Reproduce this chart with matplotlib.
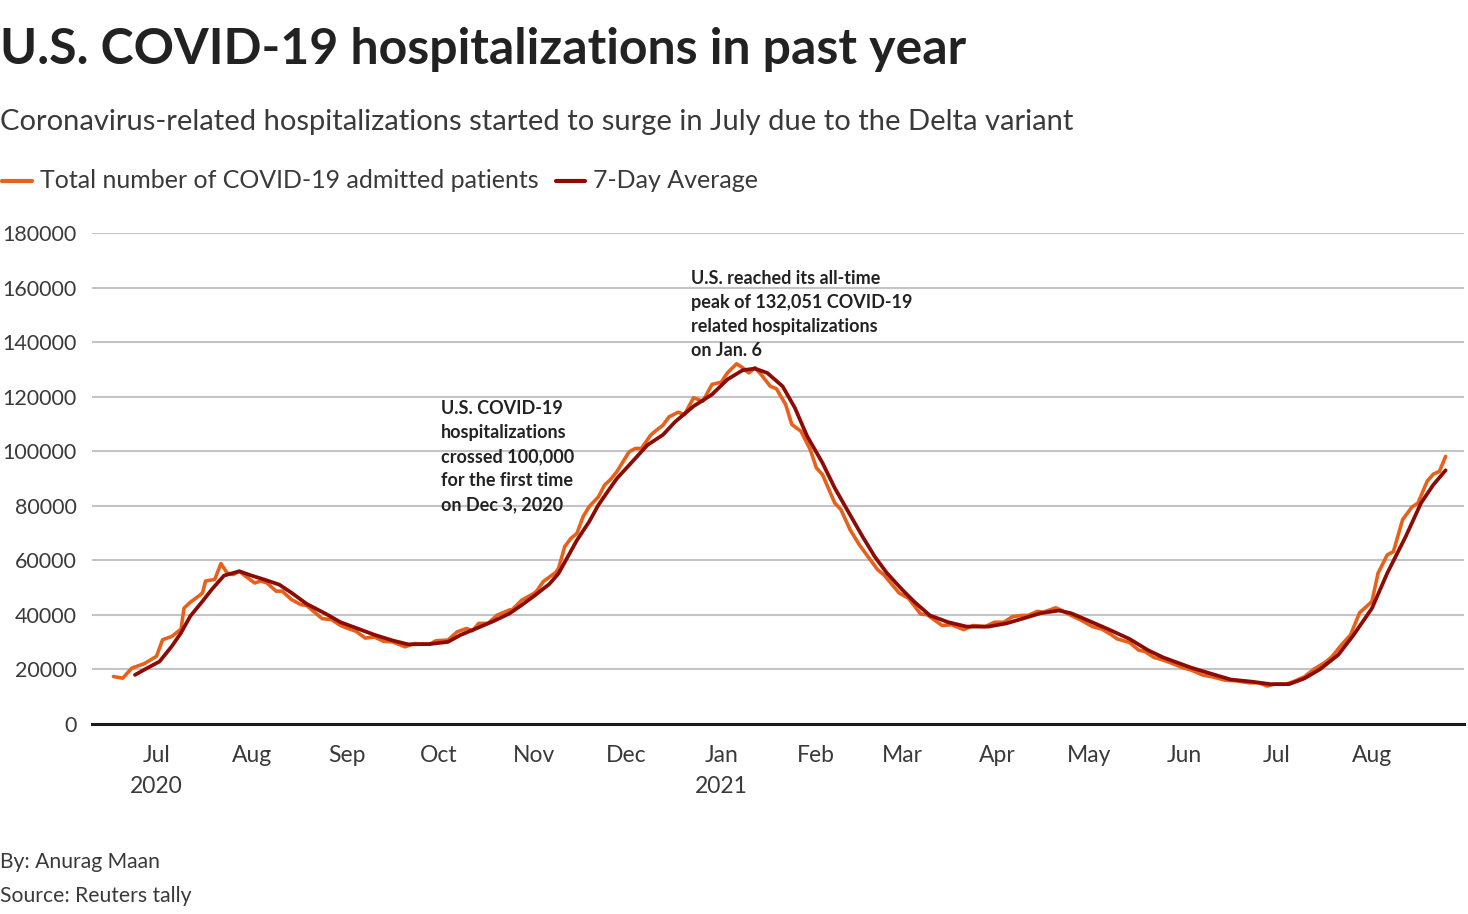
import pandas as pd
import matplotlib.pyplot as plt
from matplotlib.lines import Line2D

TOTAL_DATES = [
    "2020-06-17", "2020-06-20", "2020-06-23", "2020-06-27", "2020-07-01", "2020-07-03",
    "2020-07-06", "2020-07-09", "2020-07-10", "2020-07-12", "2020-07-15", "2020-07-16",
    "2020-07-17", "2020-07-20", "2020-07-22", "2020-07-24", "2020-07-26", "2020-07-28",
    "2020-07-30", "2020-08-02", "2020-08-04", "2020-08-06", "2020-08-09", "2020-08-11",
    "2020-08-14", "2020-08-17", "2020-08-19", "2020-08-22", "2020-08-24", "2020-08-27",
    "2020-08-30", "2020-09-01", "2020-09-04", "2020-09-07", "2020-09-10", "2020-09-13",
    "2020-09-16", "2020-09-20", "2020-09-23", "2020-09-28", "2020-09-30", "2020-10-04",
    "2020-10-07", "2020-10-10", "2020-10-12", "2020-10-14", "2020-10-17", "2020-10-20",
    "2020-10-24", "2020-10-25", "2020-10-28", "2020-11-01", "2020-11-02", "2020-11-04",
    "2020-11-08", "2020-11-09", "2020-11-11", "2020-11-13", "2020-11-15", "2020-11-17",
    "2020-11-19", "2020-11-22", "2020-11-24", "2020-11-26", "2020-11-28", "2020-12-02",
    "2020-12-04", "2020-12-06", "2020-12-09", "2020-12-11", "2020-12-13", "2020-12-15",
    "2020-12-18", "2020-12-20", "2020-12-23", "2020-12-26", "2020-12-29", "2021-01-01",
    "2021-01-03", "2021-01-06", "2021-01-08", "2021-01-10", "2021-01-12", "2021-01-14",
    "2021-01-17", "2021-01-19", "2021-01-22", "2021-01-24", "2021-01-27", "2021-01-30",
    "2021-02-01", "2021-02-03", "2021-02-07", "2021-02-09", "2021-02-12", "2021-02-15",
    "2021-02-17", "2021-02-21", "2021-02-23", "2021-02-28", "2021-03-03", "2021-03-07",
    "2021-03-09", "2021-03-14", "2021-03-17", "2021-03-21", "2021-03-24", "2021-03-28",
    "2021-03-31", "2021-04-03", "2021-04-06", "2021-04-09", "2021-04-11", "2021-04-14",
    "2021-04-16", "2021-04-20", "2021-04-22", "2021-04-25", "2021-04-28", "2021-05-02",
    "2021-05-05", "2021-05-08", "2021-05-10", "2021-05-14", "2021-05-17", "2021-05-19",
    "2021-05-22", "2021-05-24", "2021-05-28", "2021-05-31", "2021-06-03", "2021-06-07",
    "2021-06-10", "2021-06-14", "2021-06-18", "2021-06-22", "2021-06-25", "2021-06-28",
    "2021-06-30", "2021-07-04", "2021-07-07", "2021-07-10", "2021-07-13", "2021-07-17",
    "2021-07-19", "2021-07-22", "2021-07-25", "2021-07-28", "2021-08-01", "2021-08-03",
    "2021-08-06", "2021-08-08", "2021-08-11", "2021-08-14", "2021-08-16", "2021-08-19",
    "2021-08-21", "2021-08-23", "2021-08-25",
]
TOTAL_VALUES = [
    17400, 16800, 20500, 22100, 24800, 30900,
    32100, 34800, 42500, 44600, 47100, 48100,
    52400, 53000, 58800, 55400, 54800, 56000,
    54200, 51700, 52400, 51700, 48700, 48700,
    45600, 43800, 43400, 40500, 38600, 38300,
    36100, 35200, 34000, 31500, 31900, 30300,
    30100, 28300, 29500, 29200, 30500, 30800,
    33800, 35000, 34200, 36900, 36900, 39900,
    41800, 42000, 45400, 47900, 48900, 52200,
    55500, 57000, 65000, 68000, 69900, 76000,
    79700, 83300, 87600, 89700, 92500, 99800,
    101000, 101000, 105900, 107800, 109500, 112600,
    114300, 113400, 119600, 118300, 124500, 125300,
    128700, 132051, 130600, 128700, 130600, 128100,
    123800, 122900, 117100, 109800, 107300, 100600,
    93900, 91400, 81000, 78600, 71200, 65700,
    62600, 56500, 54700, 48000, 46100, 40300,
    40100, 36100, 36400, 34600, 36100, 35700,
    37300, 37300, 39400, 39800, 39800, 41300,
    41000, 42600, 41600, 39800, 38200, 35700,
    34800, 32800, 31200, 29900, 27100, 26600,
    24400, 23800, 22200, 20800, 19800, 17900,
    17300, 16100, 15800, 15100, 15100, 13900,
    14600, 14600, 15800, 17300, 20000, 22800,
    24700, 28900, 32600, 40800, 44900, 55300,
    62000, 63200, 74900, 79500, 81000, 89000,
    91600, 92600, 98100,
]

AVG_DATES = [
    "2020-06-24", "2020-06-28", "2020-07-02", "2020-07-06", "2020-07-09", "2020-07-12",
    "2020-07-16", "2020-07-19", "2020-07-23", "2020-07-28", "2020-08-01", "2020-08-05",
    "2020-08-10", "2020-08-14", "2020-08-19", "2020-08-25", "2020-08-30", "2020-09-05",
    "2020-09-10", "2020-09-16", "2020-09-21", "2020-09-28", "2020-10-04", "2020-10-08",
    "2020-10-14", "2020-10-19", "2020-10-24", "2020-10-28", "2020-11-01", "2020-11-06",
    "2020-11-09", "2020-11-12", "2020-11-15", "2020-11-19", "2020-11-22", "2020-11-25",
    "2020-11-28", "2020-12-02", "2020-12-05", "2020-12-08", "2020-12-13", "2020-12-17",
    "2020-12-23", "2020-12-29", "2021-01-03", "2021-01-08", "2021-01-12", "2021-01-16",
    "2021-01-21", "2021-01-25", "2021-01-29", "2021-02-03", "2021-02-07", "2021-02-11",
    "2021-02-16", "2021-02-20", "2021-02-24", "2021-03-01", "2021-03-05", "2021-03-10",
    "2021-03-16", "2021-03-22", "2021-03-29", "2021-04-04", "2021-04-10", "2021-04-15",
    "2021-04-21", "2021-04-25", "2021-04-30", "2021-05-07", "2021-05-14", "2021-05-20",
    "2021-05-25", "2021-06-03", "2021-06-10", "2021-06-16", "2021-06-23", "2021-06-29",
    "2021-07-05", "2021-07-10", "2021-07-15", "2021-07-21", "2021-07-26", "2021-08-01",
    "2021-08-06", "2021-08-12", "2021-08-17", "2021-08-21", "2021-08-25",
]
AVG_VALUES = [
    18000, 20500, 22900, 28500, 33400, 39500,
    45000, 49300, 54400, 56000, 54400, 53000,
    51100, 48100, 44000, 40500, 37300, 34800,
    32700, 30600, 29200, 29300, 30100, 32600,
    35400, 37800, 40500, 43600, 46900, 51300,
    55200, 61300, 67400, 74200, 80300, 85200,
    90000, 94900, 98600, 102300, 106000, 110800,
    116500, 120800, 126300, 129700, 130300, 128700,
    123800, 115900, 105500, 95700, 86500, 78600,
    68800, 61400, 55300, 49200, 44700, 39800,
    37300, 35700, 35700, 36900, 38900, 40600,
    41600, 40600, 38200, 34800, 31200, 27100,
    24400, 20700, 18300, 16300, 15500, 14600,
    14600, 16700, 20000, 25300, 32600, 42400,
    55300, 68700, 81000, 87700, 93000,
]

Y_TICKS = [0, 20000, 40000, 60000, 80000, 100000, 120000, 140000, 160000, 180000]
MONTH_TICKS = ["2020-07-01", "2020-08-01", "2020-09-01", "2020-10-01", "2020-11-01",
               "2020-12-01", "2021-01-01", "2021-02-01", "2021-03-01", "2021-04-01",
               "2021-05-01", "2021-06-01", "2021-07-01", "2021-08-01"]
MONTH_LABELS = ["Jul\n2020", "Aug", "Sep", "Oct", "Nov", "Dec", "Jan\n2021", "Feb",
                "Mar", "Apr", "May", "Jun", "Jul", "Aug"]
LEGEND_LABELS = ["Total number of COVID-19 admitted patients", "7-Day Average"]

ORANGE = "#e8611a"
DARKRED = "#8c0b07"
TEXT = "#222222"
GREY = "#3a3a3a"

plt.rcParams['font.family'] = ['Lato', 'DejaVu Sans']

W, H = 1468, 914
fig = plt.figure(figsize=(W / 100, H / 100), dpi=100)
ax = fig.add_axes([92 / W, 1 - 724 / H, (1464 - 92) / W, (724 - 233) / H])

total_x = pd.to_datetime(TOTAL_DATES)
avg_x = pd.to_datetime(AVG_DATES)
ax.plot(total_x, TOTAL_VALUES, color=ORANGE, lw=2.6, solid_joinstyle='round',
        solid_capstyle='round', zorder=3)
ax.plot(avg_x, AVG_VALUES, color=DARKRED, lw=2.7, solid_joinstyle='round',
        solid_capstyle='round', zorder=4)

ax.set_xlim(pd.Timestamp("2020-06-10"), pd.Timestamp("2021-08-31"))
ax.set_ylim(0, 180000)
ax.set_yticks(Y_TICKS)
ax.set_yticklabels([str(v) for v in Y_TICKS])
ax.set_xticks(pd.to_datetime(MONTH_TICKS))
ax.set_xticklabels(MONTH_LABELS, linespacing=1.6)

ax.grid(axis='y', color='#c4c4c4', lw=1.5, zorder=0)
ax.set_axisbelow(True)
for side in ['left', 'right', 'top']:
    ax.spines[side].set_visible(False)
ax.spines['bottom'].set_color('#1a1a1a')
ax.spines['bottom'].set_linewidth(2.2)
ax.spines['bottom'].set_zorder(5)
ax.tick_params(axis='y', length=0, pad=11, labelsize=15.5, labelcolor=GREY)
ax.tick_params(axis='x', length=0, pad=15, labelsize=16.5, labelcolor=GREY)

# annotations
ax.text(pd.Timestamp("2020-10-01") + pd.Timedelta(days=0.7), 118800,
        "U.S. COVID-19\nhospitalizations\ncrossed 100,000\nfor the first time\non Dec 3, 2020",
        fontsize=13, fontweight='bold', color=TEXT, va='top', ha='left', linespacing=1.5)
ax.text(pd.Timestamp("2020-12-22"), 166500,
        "U.S. reached its all-time\npeak of 132,051 COVID-19\nrelated hospitalizations\non Jan. 6",
        fontsize=13, fontweight='bold', color=TEXT, va='top', ha='left', linespacing=1.5)

# header
fig.text(0, 1 - 50 / H, "U.S. COVID-19 hospitalizations in past year", fontsize=36,
         fontweight='bold', color=TEXT, va='center', ha='left')
fig.text(0, 1 - 122 / H,
         "Coronavirus-related hospitalizations started to surge in July due to the Delta variant",
         fontsize=21, color=GREY, va='center', ha='left')

# legend drawn by hand so the swatches sit where the reference has them
leg_y = 1 - 181 / H
fig.add_artist(Line2D([2 / W, 32 / W], [leg_y, leg_y], color=ORANGE, lw=3,
                      solid_capstyle='round'))
fig.text(40 / W, leg_y, LEGEND_LABELS[0], fontsize=18, color=GREY, va='center', ha='left')
fig.add_artist(Line2D([556 / W, 585 / W], [leg_y, leg_y], color=DARKRED, lw=3,
                      solid_capstyle='round'))
fig.text(593 / W, leg_y, LEGEND_LABELS[1], fontsize=18, color=GREY, va='center', ha='left')

# footer
fig.text(0, 1 - 862 / H, "By: Anurag Maan", fontsize=15.2, color=GREY, va='center', ha='left')
fig.text(0, 1 - 896 / H, "Source: Reuters tally", fontsize=15.2, color=GREY,
         va='center', ha='left')

fig.savefig("out.png", dpi=100, facecolor='white')
